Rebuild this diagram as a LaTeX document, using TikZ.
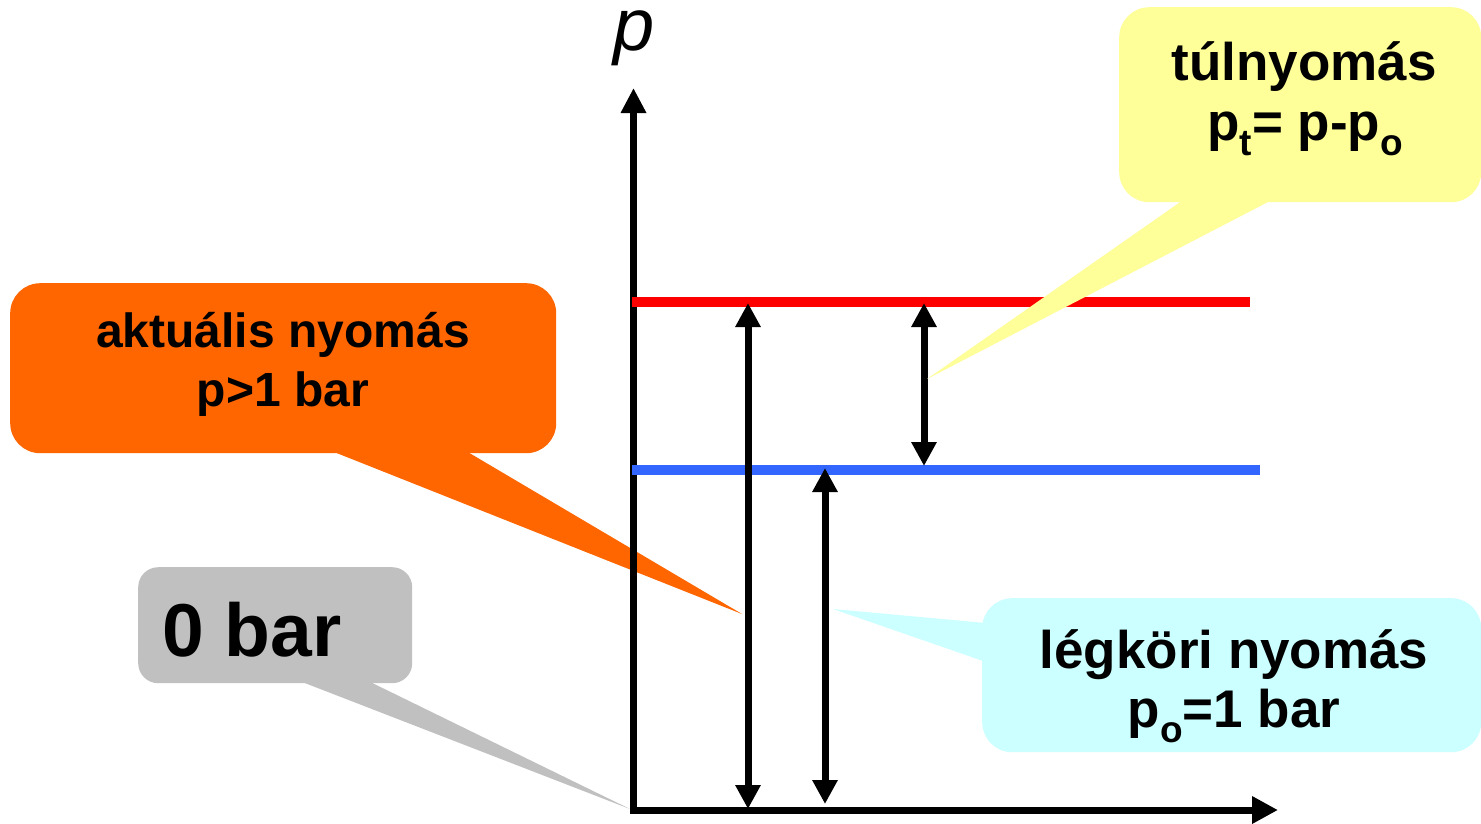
\documentclass[tikz,border=0pt]{standalone}
\usepackage{fontspec}
\setmainfont{Liberation Sans}
\usetikzlibrary{arrows.meta,calc}
\definecolor{calloutorange}{HTML}{FF6600}
\definecolor{calloutyellow}{HTML}{FFFF99}
\definecolor{calloutcyan}{HTML}{CCFFFF}
\definecolor{calloutgray}{HTML}{C0C0C0}
\definecolor{levelred}{HTML}{FF0000}
\definecolor{levelblue}{HTML}{3366FF}
% lowered subscript used in the formula lines
\newcommand{\lowsub}[1]{\raisebox{-15pt}{\fontsize{37}{37}\selectfont #1}}

\begin{document}
\begin{tikzpicture}[x=1pt,y=-1pt,
  calloutbox/.style={rectangle, rounded corners=#1, inner sep=0pt, anchor=north west, draw=none},
  calloutbox/.default=30pt,
  linetext/.style={inner sep=0pt, anchor=base, font=\fontsize{#1}{#1}\selectfont\bfseries},
  axisline/.style={line width=7pt, line join=miter,
    {Triangle[width=24pt,length=25pt]}-{Triangle[width=26pt,length=26pt]}},
  dimarrow/.style={line width=7pt,
    {Triangle[width=24pt,length=24pt]}-{Triangle[width=24pt,length=24pt]}},
  levelline/.style={line width=10pt}
]
\useasboundingbox (0,0) rectangle (1481,823);

% ---- coordinates of the diagram
\coordinate (O) at (633.5,810);
\coordinate (ytop) at (633.5,88);
\coordinate (xend) at (1278,810);
\coordinate (redL) at (632,302);
\coordinate (redR) at (1250,302);
\coordinate (blueL) at (632,470);
\coordinate (blueR) at (1260,470);
\coordinate (a1top) at (748,303);
\coordinate (a1bot) at (748,809);
\coordinate (a2top) at (825,468);
\coordinate (a2bot) at (825,804);
\coordinate (a3top) at (924,303);
\coordinate (a3bot) at (924,466);
\coordinate (acttip) at (742,614);
\coordinate (zerotip) at (630,809);
\coordinate (overtip) at (927,379);
\coordinate (atmtip) at (833,609);

% ---- callout: actual pressure
\node[calloutbox, fill=calloutorange, minimum width=546pt, minimum height=170pt] (actbox) at (10,283) {};
\fill[calloutorange] ($(actbox.south west)+(320,-3)$) -- (acttip) -- ($(actbox.south west)+(455,-3)$) -- cycle;
\node[linetext=48] (act1) at (283,347) {aktuális nyomás};
\node[linetext=48] (act2) at (283,406) {p>1 bar};

% ---- callout: zero pressure
\node[calloutbox=20pt, fill=calloutgray, minimum width=274pt, minimum height=116pt] (zerobox) at (138,567) {};
\fill[calloutgray] ($(zerobox.south west)+(160,-3)$) -- (zerotip) -- ($(zerobox.south west)+(229,-3)$) -- cycle;
\node[linetext=75, anchor=base west] (zerotxt) at (162,656) {0 bar};

% ---- axes
\draw[axisline] (ytop) -- (O) -- (xend);
\node[inner sep=0pt, anchor=base, text height=39pt, text depth=16pt,
      font=\fontsize{74}{74}\selectfont\itshape] (plabel) at (634,50) {p};

% ---- pressure levels
\draw[levelline, levelred] (redL) -- (redR);
\draw[levelline, levelblue] (blueL) -- (blueR);

% ---- pressure differences
\draw[dimarrow] (a1top) -- (a1bot);
\draw[dimarrow] (a2top) -- (a2bot);
\draw[dimarrow] (a3top) -- (a3bot);

% ---- callout: overpressure
\node[calloutbox, fill=calloutyellow, minimum width=362pt, minimum height=195pt] (overbox) at (1119,7) {};
\fill[calloutyellow] ($(overbox.south west)+(65,-3)$) -- (overtip) -- ($(overbox.south west)+(154,-3)$) -- cycle;
\node[linetext=53] (over1) at (1304,80) {túlnyomás};
\node[linetext=53] (over2) at (1305,140) {p\lowsub{t}= p-p\lowsub{o}};

% ---- callout: atmospheric pressure
\node[calloutbox, fill=calloutcyan, minimum width=499pt, minimum height=154pt] (atmbox) at (982,598) {};
\fill[calloutcyan] ($(atmbox.north west)+(4,25)$) -- (atmtip) -- ($(atmbox.north west)+(4,64)$) -- cycle;
\node[linetext=53] (atm1) at (1234,668) {légköri nyomás};
\node[linetext=53] (atm2) at (1234,727) {p\lowsub{o}=1 bar};
\end{tikzpicture}
\end{document}
